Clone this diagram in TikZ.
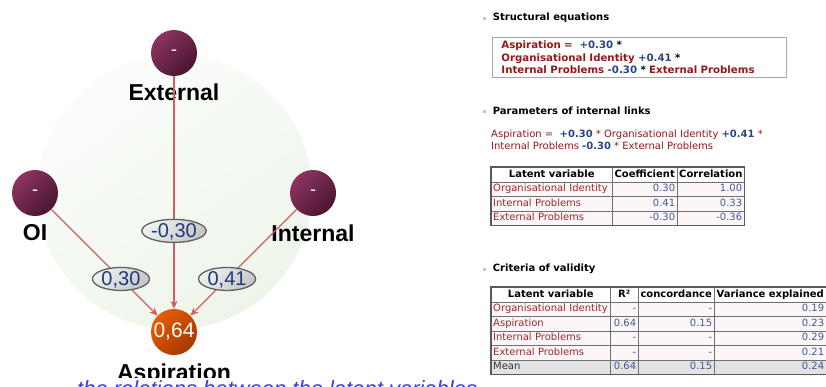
\documentclass[tikz,border=0pt]{standalone}
\usepackage{fontspec}
\setmainfont{DejaVu Sans}
\newfontfamily\labelfont{Liberation Sans}
\usetikzlibrary{positioning, arrows.meta, shapes.geometric}

\definecolor{lvtop}{HTML}{8C3460}
\definecolor{lvbot}{HTML}{4A1530}
\definecolor{asptop}{HTML}{E85C06}
\definecolor{aspbot}{HTML}{A63800}
\definecolor{discgreen}{HTML}{EDF5EA}
\definecolor{linkred}{HTML}{D25F5F}
\definecolor{coefblue}{HTML}{1F3A7A}
\definecolor{eqred}{HTML}{951818}
\definecolor{eqblue}{HTML}{2A4582}
\definecolor{tabred}{HTML}{A02828}
\definecolor{tabblue}{HTML}{3C5C9C}
\definecolor{tabline}{HTML}{707070}
\definecolor{cellbg}{HTML}{FCF6F9}
\definecolor{meanbg}{HTML}{E2E2E2}
\definecolor{notblue}{HTML}{3A3AF5}

\begin{document}
\begin{tikzpicture}[
    x=1pt, y=-1pt,
    font=\fontsize{10}{12}\selectfont,
    disc/.style={circle, minimum size=275pt, inner sep=0pt, top color=white!80!discgreen, bottom color=discgreen, shading angle=35},
    latent/.style={circle, minimum size=46pt, inner sep=0pt, text=white, font=\labelfont\fontsize{18}{18}\selectfont, top color=lvtop, bottom color=lvbot, shading angle=45},
    target/.style={latent, top color=asptop, bottom color=aspbot, shading angle=45, font=\labelfont\fontsize{21}{21}\selectfont},
    lvlabel/.style={inner sep=0pt, font=\labelfont\bfseries\fontsize{23}{23}\selectfont},
    link/.style={draw=linkred, line width=1.3pt, -{Stealth[length=8pt,width=7pt]}},
    coef/.style={ellipse, draw=gray!75!black, top color=gray!12, bottom color=gray!45, shading angle=45, minimum width=57pt, minimum height=23pt, inner sep=0pt, text height=14pt, text depth=0pt, text=coefblue, font=\labelfont\fontsize{20}{20}\selectfont},
    bullet/.style={rectangle, fill=gray!45, minimum size=3pt, inner sep=0pt},
    heading/.style={inner sep=0pt, font=\bfseries\fontsize{10}{12}\selectfont},
    eqbox/.style={draw=gray!70, line width=0.9pt, anchor=north west, minimum width=294pt, text width=276pt, inner xsep=9pt, inner ysep=3.5pt, align=left, font=\bfseries\fontsize{10.2}{12.5}\selectfont},
    cell/.style={draw=tabline, fill=cellbg, anchor=north west, inner xsep=2pt, inner ysep=0pt, minimum height=14.5pt, text height=7.5pt, text depth=2.2pt},
    head/.style={cell, fill=white, align=center, font=\bfseries\fontsize{10}{12}\selectfont},
    varcell/.style={cell, align=left, text=tabred},
    numcell/.style={cell, align=right, text=tabblue},
    tabframe/.style={draw=tabline!80!black, line width=1.2pt}
  ]
  \useasboundingbox (0,0) rectangle (826,386);
  \clip (0,0) rectangle (826,386);

  % Modelo estructural
  \node[disc] (back) at (174.5,192) {};
  \node[latent] (ext) at (174,53) {-};
  \node[latent] (oi) at (35,193) {-};
  \node[latent] (int) at (313,193) {-};
  \node[target] (asp) at (174,332) {0,64};

  \node[lvlabel, below=7pt of ext] (extlbl) {External};
  \node[lvlabel, below=8pt of oi] (oilbl) {OI};
  \node[lvlabel, below=8pt of int] (intlbl) {Internal};
  \node[lvlabel, below=8pt of asp] (asplbl) {Aspiration};

  \draw[link] (ext) -- node[coef, pos=0.665] (c1) {-0,30} (asp);
  \draw[link] (oi) -- node[coef, pos=0.655] (c2) {0,30} (asp);
  \draw[link] (int) -- node[coef, pos=0.655] (c3) {0,41} (asp);

  % Texto inferior (cortado)
  \node[anchor=base west, fill=white, inner xsep=2pt, inner ysep=1pt, text height=17pt, text=notblue, font=\labelfont\itshape\fontsize{22}{22}\selectfont] (note) at (75,396) {the relations between the latent variables};

  % Ecuaciones estructurales
  \node[bullet] (b1) at (484,18) {};
  \node[heading, right=7pt of b1] (h1) {Structural equations};
  \node[eqbox] (eqs) at (492,37) {%
    \textcolor{eqred}{Aspiration =}~~\textcolor{eqblue}{+0.30} *\\
    \textcolor{eqred}{Organisational Identity} \textcolor{eqblue}{+0.41} *\\
    \textcolor{eqred}{Internal Problems} \textcolor{eqblue}{-0.30} * \textcolor{eqred}{External Problems}};

  % Parametros
  \node[bullet] (b2) at (484,111) {};
  \node[heading, right=7pt of b2] (h2) {Parameters of internal links};
  \node[anchor=north west, inner sep=0pt, align=left, text=eqred, font=\fontsize{10}{12}\selectfont] (eqs2) at (491,130) {%
    Aspiration =~~\textcolor{eqblue}{\bfseries +0.30} * Organisational Identity \textcolor{eqblue}{\bfseries +0.41} *\\
    Internal Problems \textcolor{eqblue}{\bfseries -0.30} * External Problems};

  \node[head, text width=117pt] (t1h1) at (491,167) {Latent variable};
  \node[head, text width=61pt] (t1h2) at (612,167) {Coefficient};
  \node[head, text width=63pt] (t1h3) at (677,167) {Correlation};
  \foreach \lv/\cf/\cr [count=\i] in {Organisational Identity/0.30/1.00, Internal Problems/0.41/0.33, External Problems/-0.30/-0.36} {
      \node[varcell, text width=117pt] (t1a\i) at (491,{167+14.5*\i}) {\lv};
      \node[numcell, text width=61pt] (t1b\i) at (612,{167+14.5*\i}) {\cf};
      \node[numcell, text width=63pt] (t1c\i) at (677,{167+14.5*\i}) {\cr};
    }
  \draw[tabframe] (t1h1.north west) rectangle (t1c3.south east);

  % Criterios de validez
  \node[bullet] (b3) at (484,269) {};
  \node[heading, right=7pt of b3] (h3) {Criteria of validity};

  \node[head, text width=115pt] (t2h1) at (491,287) {Latent variable};
  \node[head, text width=24pt] (t2h2) at (610,287) {R²};
  \node[head, text width=72pt] (t2h3) at (638,287) {concordance};
  \node[head, text width=108pt] (t2h4) at (714,287) {Variance explained};
  \foreach \lv/\rr/\cc/\ve [count=\i] in {Organisational Identity/-/-/0.19, Aspiration/0.64/0.15/0.23, Internal Problems/-/-/0.29, External Problems/-/-/0.21} {
      \node[varcell, text width=115pt] (t2a\i) at (491,{287+14.5*\i}) {\lv};
      \node[numcell, text width=24pt] (t2b\i) at (610,{287+14.5*\i}) {\rr};
      \node[numcell, text width=72pt] (t2c\i) at (638,{287+14.5*\i}) {\cc};
      \node[numcell, text width=108pt] (t2d\i) at (714,{287+14.5*\i}) {\ve};
    }
  \node[cell, fill=meanbg, text width=115pt, text=black!80] (t2a5) at (491,359.5) {Mean};
  \node[numcell, fill=meanbg, text width=24pt] (t2b5) at (610,359.5) {0.64};
  \node[numcell, fill=meanbg, text width=72pt] (t2c5) at (638,359.5) {0.15};
  \node[numcell, fill=meanbg, text width=108pt] (t2d5) at (714,359.5) {0.24};
  \draw[tabframe] (t2h1.north west) rectangle (t2d5.south east);

\end{tikzpicture}
\end{document}
